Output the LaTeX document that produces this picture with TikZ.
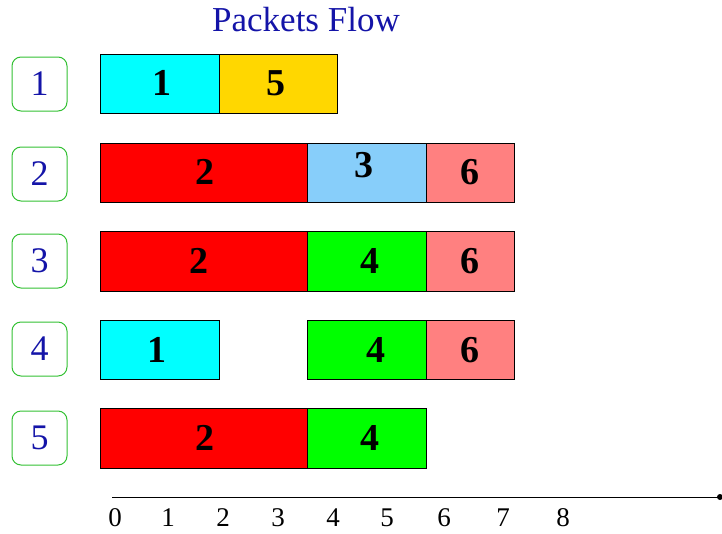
\documentclass[tikz,border=0pt]{standalone}
\usepackage{fontspec}
\setmainfont{Liberation Serif}
\definecolor{titleblue}{HTML}{1414A8}
\definecolor{boxgreen}{HTML}{33C033}
\definecolor{aqua}{HTML}{00FFFF}
\definecolor{lime}{HTML}{00FF00}
\definecolor{skyblue}{HTML}{87CEFA}
\definecolor{pinkred}{HTML}{FF8080}
\definecolor{gold}{HTML}{FFD700}

\begin{document}
\begin{tikzpicture}[x=1pt,y=-1pt,
  seg/.style={draw=black,line width=0.8pt},
  pkt/.style={font=\fontsize{38}{40}\selectfont\bfseries},
  rowbox/.style={draw=boxgreen,line width=1pt,rounded corners=9pt,minimum width=55pt,minimum height=54pt,
    text=titleblue,font=\fontsize{36}{38}\selectfont},
  tick/.style={font=\fontsize{27}{30}\selectfont}]
  \useasboundingbox (0,0) rectangle (722,533);
  \node[text=titleblue,font=\fontsize{35}{38}\selectfont] (title) at (306,20) {Packets Flow};
  % flow numbers
  \foreach \r/\y in {1/84,2/174,3/261,4/349,5/438}
    \node[rowbox] (row\r) at (39.5,\y) {\r};
  % flow 1
  \draw[seg,fill=aqua] (100,54) rectangle (219,113);
  \draw[seg,fill=gold] (219,54) rectangle (337,113);
  \node[pkt] (p11) at (162,83) {1};
  \node[pkt] (p15) at (276,83) {5};
  % flow 2
  \draw[seg,fill=red] (100,143) rectangle (307,202);
  \draw[seg,fill=skyblue] (307,143) rectangle (426,202);
  \draw[seg,fill=pinkred] (426,143) rectangle (514,202);
  \node[pkt] (p22) at (205,172) {2};
  \node[pkt] (p23) at (364,165) {3};
  \node[pkt] (p26) at (470,172) {6};
  % flow 3
  \draw[seg,fill=red] (100,231) rectangle (307,291);
  \draw[seg,fill=lime] (307,231) rectangle (426,291);
  \draw[seg,fill=pinkred] (426,231) rectangle (514,291);
  \node[pkt] (p32) at (199,261) {2};
  \node[pkt] (p34) at (370,261) {4};
  \node[pkt] (p36) at (470,261) {6};
  % flow 4
  \draw[seg,fill=aqua] (100,320) rectangle (219,379);
  \draw[seg,fill=lime] (307,320) rectangle (426,379);
  \draw[seg,fill=pinkred] (426,320) rectangle (514,379);
  \node[pkt] (p41) at (157,350) {1};
  \node[pkt] (p44) at (376,350) {4};
  \node[pkt] (p46) at (470,350) {6};
  % flow 5
  \draw[seg,fill=red] (100,408) rectangle (307,468);
  \draw[seg,fill=lime] (307,408) rectangle (426,468);
  \node[pkt] (p52) at (205,438) {2};
  \node[pkt] (p54) at (370,438) {4};
  % time axis
  \coordinate (ax0) at (112,497);
  \coordinate (ax1) at (720,497);
  \draw[line width=0.8pt] (ax0) -- (ax1);
  \fill (ax1) circle (3pt);
  \foreach \t/\x in {0/115,1/168,2/223,3/278,4/333,5/387,6/444,7/503,8/563}
    \node[tick] (t\t) at (\x,518) {\t};
\end{tikzpicture}
\end{document}
